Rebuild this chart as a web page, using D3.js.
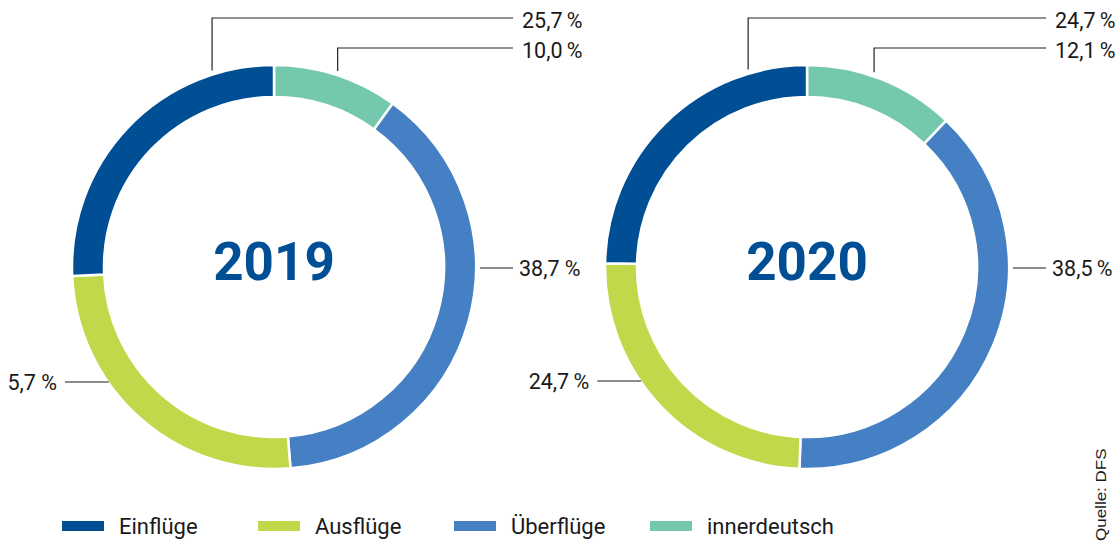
<!DOCTYPE html>
<html>
<head>
<meta charset="utf-8">
<script src="https://cdn.jsdelivr.net/npm/d3@7"></script>
<style>
  body { margin: 0; background: #fff; }
  text { font-family: Roboto, "Open Sans", sans-serif; }
</style>
</head>
<body>
<div id="chart"></div>
<script>
// categories, in drawing order (clockwise from 12 o'clock)
var categories = ["innerdeutsch", "Überflüge", "Ausflüge", "Einflüge"];
var legendOrder = ["Einflüge", "Ausflüge", "Überflüge", "innerdeutsch"];
var years = ["2019", "2020"];

// shares in percent
var values2019 = [10.0, 38.7, 25.6, 25.7];
var values2020 = [12.1, 38.5, 24.7, 24.7];

// printed labels (as in the original)
var labels2019 = ["10,0\u2009%", "38,7 %", "5,7 %", "25,7\u2009%"];
var labels2020 = ["12,1\u2009%", "38,5\u2009%", "24,7\u2009%", "24,7\u2009%"];

var colors = {
  "Einflüge": "#004f95",
  "Ausflüge": "#c0d84a",
  "Überflüge": "#4480c3",
  "innerdeutsch": "#74c8ae"
};

var width = 1116,
    height = 543;

var svg = d3.select("#chart").append("svg")
  .attr("width", width)
  .attr("height", height);

var outerR = 202,
    innerR = 170;

// where each label's leader line sits
var layouts = {
  "2019": [
    {type: "top", angle: 18, y: 48},
    {type: "side", dir: 1, y: 268},
    {type: "side", dir: -1, y: 382},
    {type: "top", angle: -17.5, y: 18}
  ],
  "2020": [
    {type: "top", angle: 19, y: 48},
    {type: "side", dir: 1, y: 268},
    {type: "side", dir: -1, y: 381},
    {type: "top", angle: -16.6, y: 18}
  ]
};

var donuts = [
  {year: "2019", cx: 274, cy: 267, values: values2019, labels: labels2019},
  {year: "2020", cx: 807, cy: 267, values: values2020, labels: labels2020}
];

var pie = d3.pie().sort(null).value(function(d) { return d; });
var arc = d3.arc().innerRadius(innerR).outerRadius(outerR);

donuts.forEach(function(dn) {
  var g = svg.append("g").attr("transform", "translate(" + dn.cx + "," + dn.cy + ")");

  g.selectAll("path")
    .data(pie(dn.values))
    .enter().append("path")
    .attr("d", arc)
    .attr("fill", function(d, i) { return colors[categories[i]]; })
    .attr("stroke", "#fff")
    .attr("stroke-width", 2.5);

  g.append("text")
    .attr("x", 0)
    .attr("y", 13)
    .attr("text-anchor", "middle")
    .style("font-size", "53px")
    .style("font-weight", "bold")
    .attr("fill", "#004f95")
    .text(dn.year);

  var lay = layouts[dn.year];
  var lineEnd = 239, textX = 248;

  lay.forEach(function(l, i) {
    var ly = l.y - dn.cy;
    if (l.type === "top") {
      var a = l.angle * Math.PI / 180;
      var px = Math.sin(a) * (outerR + 4);
      var py = -Math.cos(a) * (outerR + 4);
      g.append("path")
        .attr("d", "M" + px + "," + py + "V" + ly + "H" + lineEnd)
        .attr("fill", "none")
        .attr("stroke", "#222")
        .attr("stroke-width", 1.2);
      g.append("text")
        .attr("x", textX)
        .attr("y", ly + 10)
        .style("font-size", "21.5px")
        .attr("fill", "#1a1a1a")
        .text(dn.labels[i]);
    } else {
      var edge = Math.sqrt(outerR * outerR - ly * ly);
      if (l.dir > 0) {
        g.append("line")
          .attr("x1", edge + 4).attr("x2", lineEnd)
          .attr("y1", ly).attr("y2", ly)
          .attr("stroke", "#666").attr("stroke-width", 1.5);
        g.append("text")
          .attr("x", textX - 3)
          .attr("y", ly + 8)
          .style("font-size", "21.5px")
          .attr("fill", "#1a1a1a")
          .text(dn.labels[i]);
      } else {
        g.append("line")
          .attr("x1", -edge + 1).attr("x2", -edge - 43)
          .attr("y1", ly).attr("y2", ly)
          .attr("stroke", "#666").attr("stroke-width", 1.5);
        g.append("text")
          .attr("x", -edge - 51)
          .attr("y", ly + 8)
          .attr("text-anchor", "end")
          .style("font-size", "21.5px")
          .attr("fill", "#1a1a1a")
          .text(dn.labels[i]);
      }
    }
  });
});

// legend
var legend = svg.append("g").attr("transform", "translate(62,521)");
var item = legend.selectAll("g")
  .data(legendOrder)
  .enter().append("g")
  .attr("transform", function(d, i) { return "translate(" + (i * 196) + ",0)"; });

item.append("rect")
  .attr("width", 42)
  .attr("height", 10)
  .attr("fill", function(d) { return colors[d]; });

item.append("text")
  .attr("x", 57)
  .attr("y", 13)
  .style("font-size", "22px")
  .attr("fill", "#1a1a1a")
  .text(function(d) { return d; });

// source
svg.append("text")
  .attr("transform", "translate(1106,541) rotate(-90) scale(1,0.85)")
  .style("font-family", "'Liberation Sans', Arial, sans-serif")
  .style("font-size", "17px")
  .attr("fill", "#1a1a1a")
  .text("Quelle: DFS");
</script>
</body>
</html>
